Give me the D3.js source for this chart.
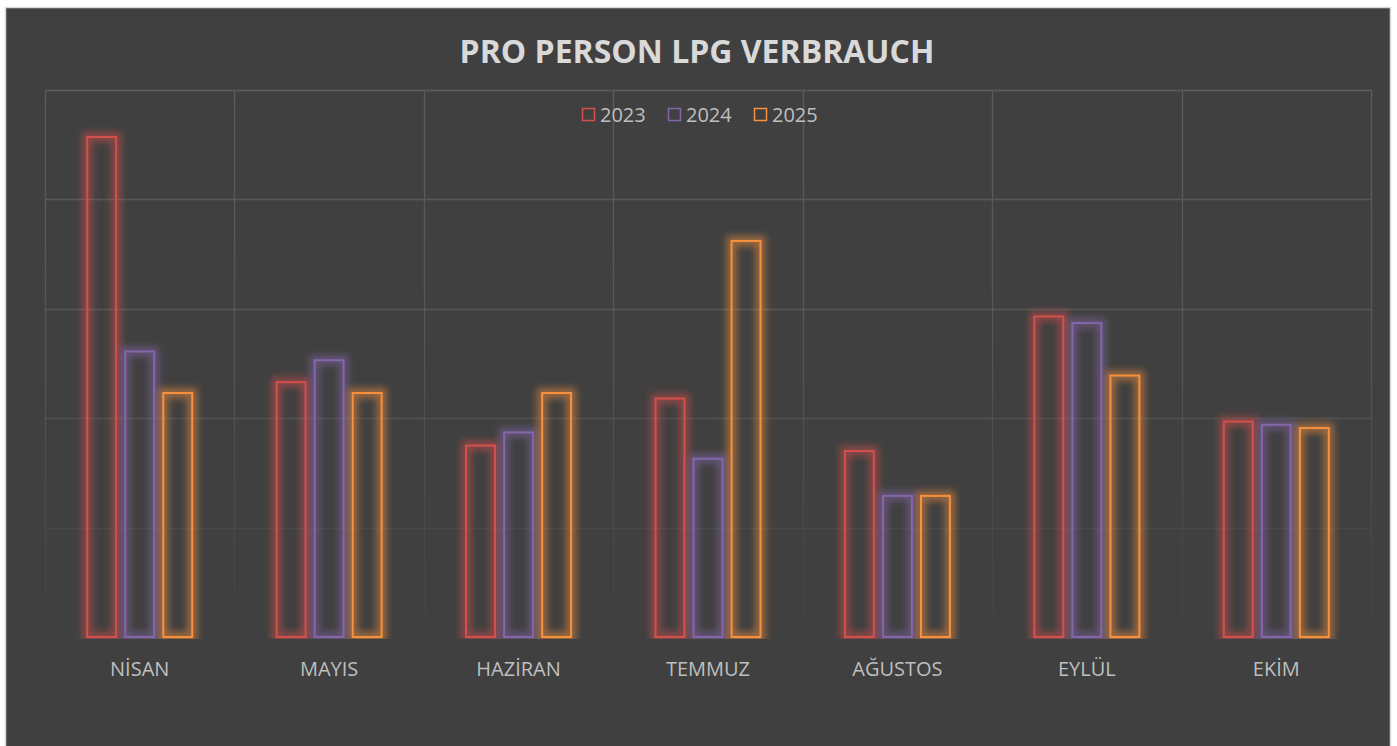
<!DOCTYPE html>
<html>
<head>
<meta charset="utf-8">
<script src="https://cdn.jsdelivr.net/npm/d3@7"></script>
<style>
  body { margin: 0; background: #fff; }
  svg { display: block; }
</style>
</head>
<body>
<div class="chart"></div>
<script>
const categories = ['NİSAN', 'MAYIS', 'HAZİRAN', 'TEMMUZ', 'AĞUSTOS', 'EYLÜL', 'EKİM']
const years = ['2023', '2024', '2025']
const values2023 = [45.7, 23.3, 17.5, 21.8, 17.0, 29.3, 19.7]
const values2024 = [26.1, 25.3, 18.7, 16.3, 12.9, 28.7, 19.4]
const values2025 = [22.3, 22.3, 22.3, 36.2, 12.9, 23.9, 19.1]
const yTicks = [0, 10, 20, 30, 40, 50]
const colors = ['#d4504c', '#8466ab', '#f7913d']

const series = [values2023, values2024, values2025]
const width = 1397
const height = 746
const margin = { top: 90, right: 26, bottom: 109, left: 45 }

const svg = d3.select('.chart')
  .append('svg')
  .attr('width', width)
  .attr('height', height)

const defs = svg.append('defs')

const grad = defs.append('linearGradient')
  .attr('id', 'gridFade')
  .attr('gradientUnits', 'userSpaceOnUse')
  .attr('x1', 0).attr('x2', 0)
  .attr('y1', margin.top).attr('y2', height - margin.bottom)
grad.append('stop').attr('offset', '0%').attr('stop-color', '#5c5c5c').attr('stop-opacity', 1)
grad.append('stop').attr('offset', '45%').attr('stop-color', '#5a5a5a').attr('stop-opacity', 0.85)
grad.append('stop').attr('offset', '100%').attr('stop-color', '#555555').attr('stop-opacity', 0.1)

defs.append('filter')
  .attr('id', 'glow')
  .attr('x', '-50%').attr('y', '-50%').attr('width', '200%').attr('height', '200%')
  .append('feGaussianBlur')
  .attr('stdDeviation', 3.5)

defs.append('clipPath')
  .attr('id', 'plotClip')
  .append('rect')
  .attr('x', 0).attr('y', 0)
  .attr('width', width)
  .attr('height', height - margin.bottom + 2)

// panel
svg.append('rect')
  .attr('x', 5.5).attr('y', 7.5)
  .attr('width', 1385).attr('height', 760)
  .attr('fill', '#404040')
  .attr('stroke', '#d9d9d9')
  .attr('stroke-width', 1.5)

const x0 = d3.scaleBand()
  .domain(categories)
  .range([margin.left, width - margin.right])
  .padding(0)

const x1 = d3.scaleBand()
  .domain(years)
  .range([0, x0.bandwidth()])
  .paddingInner(0.24)
  .paddingOuter(1.11)

const y = d3.scaleLinear()
  .domain([0, 50])
  .range([height - margin.bottom, margin.top])

// gridlines
const grid = svg.append('g').attr('stroke', 'url(#gridFade)').attr('stroke-width', 1.3)
grid.selectAll('line.h')
  .data(yTicks.slice(1))
  .enter()
  .append('line')
  .attr('x1', margin.left).attr('x2', width - margin.right)
  .attr('y1', (d) => { return Math.round(y(d)) + 0.5 })
  .attr('y2', (d) => { return Math.round(y(d)) + 0.5 })

grid.selectAll('line.v')
  .data(categories.concat(['end']))
  .enter()
  .append('line')
  .attr('x1', (d) => { return Math.round(d === 'end' ? x0.range()[1] : x0(d)) + 0.5 })
  .attr('x2', (d) => { return Math.round(d === 'end' ? x0.range()[1] : x0(d)) + 0.5 })
  .attr('y1', margin.top)
  .attr('y2', y(0))

// bars
const barData = []
categories.forEach((c, i) => {
  years.forEach((yr, j) => {
    barData.push({ category: c, year: yr, value: series[j][i], color: colors[j] })
  })
})

const bars = svg.append('g').attr('clip-path', 'url(#plotClip)')

bars.selectAll('rect.glow')
  .data(barData)
  .enter()
  .append('rect')
  .attr('class', 'glow')
  .attr('x', (d) => { return x0(d.category) + x1(d.year) })
  .attr('y', (d) => { return y(d.value) })
  .attr('width', x1.bandwidth())
  .attr('height', (d) => { return y(0) - y(d.value) })
  .attr('fill', 'none')
  .attr('stroke', (d) => { return d.color })
  .attr('stroke-width', 10)
  .attr('stroke-opacity', 0.5)
  .attr('filter', 'url(#glow)')

bars.selectAll('rect.bar')
  .data(barData)
  .enter()
  .append('rect')
  .attr('class', 'bar')
  .attr('x', (d) => { return x0(d.category) + x1(d.year) })
  .attr('y', (d) => { return y(d.value) })
  .attr('width', x1.bandwidth())
  .attr('height', (d) => { return y(0) - y(d.value) })
  .attr('fill', 'none')
  .attr('stroke', (d) => { return d.color })
  .attr('stroke-width', 2)

// category labels
svg.append('g')
  .selectAll('text')
  .data(categories)
  .enter()
  .append('text')
  .attr('x', (d) => { return x0(d) + x0.bandwidth() / 2 })
  .attr('y', 676)
  .attr('text-anchor', 'middle')
  .attr('font-family', 'Open Sans, sans-serif')
  .attr('font-size', 20)
  .attr('fill', '#bfbfbf')
  .text((d) => { return d })

// title
svg.append('text')
  .attr('x', 697)
  .attr('y', 63)
  .attr('text-anchor', 'middle')
  .attr('font-family', 'Open Sans, sans-serif')
  .attr('font-weight', 'bold')
  .attr('font-size', 32)
  .attr('fill', '#d9d9d9')
  .text('PRO PERSON LPG VERBRAUCH')

// legend
const legendX = [582, 668, 754]
const legend = svg.append('g')
  .selectAll('g')
  .data(years)
  .enter()
  .append('g')
  .attr('transform', (d, i) => { return `translate(${legendX[i]},108)` })

legend.append('rect')
  .attr('x', 0.5).attr('y', 0.5)
  .attr('width', 12).attr('height', 12)
  .attr('fill', 'none')
  .attr('stroke', (d, i) => { return colors[i] })
  .attr('stroke-width', 1.5)

legend.append('text')
  .attr('x', 18)
  .attr('y', 14)
  .attr('font-family', 'Open Sans, sans-serif')
  .attr('font-size', 20)
  .attr('fill', '#bfbfbf')
  .text((d) => { return d })
</script>
</body>
</html>
